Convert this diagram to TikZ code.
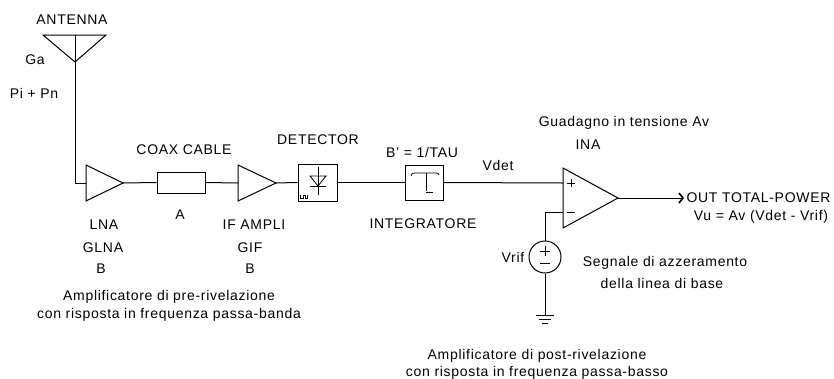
\documentclass[tikz,border=0pt]{standalone}
\usepackage{fontspec}
\setmainfont{Liberation Sans}[LetterSpace=5]
\usetikzlibrary{arrows.meta}
\begin{document}
\begin{tikzpicture}[x=1pt,y=-1pt,line width=1pt,
  font=\fontsize{14}{16}\selectfont,
  lbl/.style={inner sep=0pt,anchor=center},
  blk/.style={draw,inner sep=0pt,line width=1pt},
  thin/.style={line width=0.8pt}]
\useasboundingbox[fill=white] (0,0) rectangle (834,378);

% ---- labels ----
\node[lbl] (tant) at (72,20) {ANTENNA};
\node[lbl] (tga) at (35,60) {Ga};
\node[lbl] (tpi) at (34,93) {Pi + Pn};
\node[lbl] (tcoax) at (184,150) {COAX CABLE};
\node[lbl] (ta) at (180,215) {A};
\node[lbl] (tlna) at (104,225) {LNA};
\node[lbl] (tglna) at (103,248) {GLNA};
\node[lbl] (tb1) at (101,269) {B};
\node[lbl] (tif) at (254,225) {IF AMPLI};
\node[lbl] (tgif) at (250,248) {GIF};
\node[lbl] (tb2) at (250,269) {B};
\node[lbl] (tpre1) at (169,297) {Amplificatore di pre-rivelazione};
\node[lbl] (tpre2) at (169,315) {con risposta in frequenza passa-banda};
\node[lbl] (tdet) at (318,140) {DETECTOR};
\node[lbl] (tbw) at (422,152) {B' = 1/TAU};
\node[lbl] (tintg) at (423,224) {INTEGRATORE};
\node[lbl] (tvdet) at (498,165) {Vdet};
\node[lbl] (tgain) at (624,123) {Guadagno in tensione Av};
\node[lbl] (tina) at (588,145) {INA};
\node[lbl,anchor=west] (tout) at (686,198) {OUT TOTAL-POWER};
\node[lbl] (tvu) at (761,217) {Vu = Av (Vdet - Vrif)};
\node[lbl] (tvrif) at (513,257) {Vrif};
\node[lbl] (tseg1) at (665,263) {Segnale di azzeramento};
\node[lbl] (tseg2) at (662,283) {della linea di base};
\node[lbl] (tpost1) at (537,356) {Amplificatore di post-rivelazione};
\node[lbl] (tpost2) at (537,373) {con risposta in frequenza passa-basso};

% ---- antenna ----
\coordinate (ant) at (75,35);
\coordinate (feed) at (75,183);
\draw (43,35) -- (106,35) -- (75,62) -- cycle;

% ---- LNA ----
\coordinate (lnain) at (86,183);
\coordinate (lnaout) at (123,183);
\draw (86,165) -- (86,201) -- (lnaout) -- cycle;

% ---- coax ----
\node[blk,minimum width=48pt,minimum height=21pt] (coax) at (181,182.5) {};

% ---- IF amp ----
\coordinate (ifin) at (238,183);
\coordinate (ifout) at (276,183);
\draw (238,165) -- (238,201) -- (ifout) -- cycle;

% ---- detector ----
\node[blk,minimum width=39pt,minimum height=37pt] (det) at (317.5,182.5) {};
\draw[thin] (318,167) -- (318,195);
\draw[thin] (310,176) -- (326,176) -- (318,186) -- cycle;
\draw[thin] (310,186) -- (326,186);
\draw[line width=0.5pt] (300.5,195) -- (300.5,198.5) -- (303,198.5) -- (303,195.5) -- (305,195.5) -- (305,198.5) -- (307.5,198.5) -- (307.5,195) ;

% ---- integrator ----
\node[blk,minimum width=38pt,minimum height=35pt] (intg) at (424,182.5) {};
\draw[thin] (411,176) .. controls (412,173) .. (415,173) -- (436,173) .. controls (438,173) .. (439,175);
\draw[thin] (426,173) -- (426,191);
\draw[thin] (426,192.5) -- (433,192.5);

% ---- op amp ----
\coordinate (opp) at (563,183);
\coordinate (opm) at (563,212);
\coordinate (opout) at (618,198);
\draw (563,168) -- (563,228) -- (opout) -- cycle;
\draw[thin] (567,183) -- (575,183) (571,179) -- (571,187);
\draw[thin] (567,212) -- (575,212);

% ---- reference source ----
\node[draw,circle,minimum size=32pt,inner sep=0pt] (vsrc) at (545,257) {};
\draw[thin] (540,251) -- (550,251) (545,246) -- (545,256);
\draw[thin] (540,263) -- (550,263);
\coordinate (gnd) at (545,315);
\draw (gnd) ++(-9,0) -- ++(18,0);
\draw (gnd) ++(-6,4) -- ++(12,0);
\draw (gnd) ++(-3,8) -- ++(6,0);

% ---- output ----
\coordinate (outtip) at (684,198);

% ---- connectors ----
\draw (ant) -- (feed) -- (lnain);
\draw (lnaout) -- (coax.west);
\draw (coax.east) -- (ifin);
\draw (ifout) -- (det.west);
\draw (det.east) -- (intg.west);
\draw (intg.east) -- (opp);
\draw (opm) -| (vsrc.north);
\draw (vsrc.south) -- (gnd);
\draw[-{Straight Barb[length=4pt,width=10pt,line width=1.6pt]}] (opout) -- (outtip);
\end{tikzpicture}
\end{document}
